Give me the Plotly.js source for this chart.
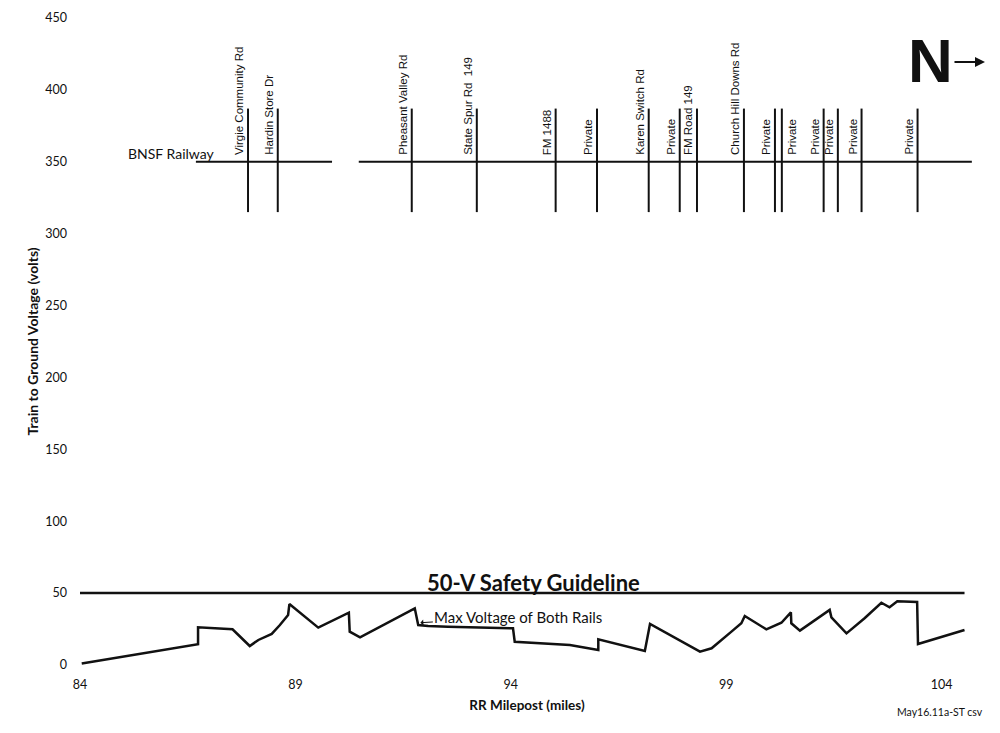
<!DOCTYPE html>
<html>
<head>
<meta charset="utf-8">
<script src="https://cdn.plot.ly/plotly-3.0.1.min.js"></script>
<style>
  html, body { margin: 0; padding: 0; background: #ffffff; }
  #chart { width: 1000px; height: 733px; }
</style>
</head>
<body>
<div id="chart"></div>
<script>
// Train-to-ground voltage (max of both rails) along the BNSF line
const mileposts = [84.04, 86.74, 86.74, 87.54, 87.94, 88.14, 88.45, 88.64, 88.83, 88.86,
  89.53, 90.24, 90.26, 90.50, 91.77, 91.85, 92.08, 92.54, 94.05, 94.09,
  95.37, 95.76, 96.03, 96.03, 97.11, 97.23, 97.84, 98.39, 98.66, 98.85,
  99.12, 99.35, 99.43, 99.93, 100.28, 100.50, 100.51, 100.71, 101.40, 101.44,
  101.79, 102.21, 102.60, 102.79, 102.97, 103.43, 103.45, 104.53];
const voltages = [1, 14.4, 26.2, 24.8, 13.2, 17.4, 21.6, 27.8, 34.8, 42.4,
  26.0, 36.4, 23.2, 19.2, 39.4, 27.8, 27.1, 26.6, 25.5, 16.2,
  13.9, 11.6, 10.4, 17.9, 9.7, 28.5, 18.5, 9.3, 11.6, 16.2,
  23.2, 29.0, 34.1, 24.8, 29.4, 36.6, 29.0, 23.9, 38.3, 33.2,
  22.0, 32.5, 43.3, 40.1, 44.3, 43.8, 14.6, 24.3];

// 50-V safety guideline across the surveyed stretch
const guidelineMiles = [84, 104.53];
const guidelineVolts = [50, 50];

// Road crossings along the track (schematic drawn in the upper part)
const crossingNames = ["Virgie Community Rd", "Hardin Store Dr", "Pheasant Valley Rd",
  "State Spur Rd  149", "FM 1488", "Private", "Karen Switch Rd", "Private", "FM Road 149",
  "Church Hill Downs Rd", "Private", "Private", "Private", "Private", "Private", "Private"];
const crossingMiles = [87.90, 88.59, 91.70, 93.21, 95.04, 96.00, 97.20, 97.92, 98.32,
  99.41, 100.13, 100.29, 101.26, 101.59, 102.14, 103.44];

// Railway schematic: two track segments, crossings span a band of the y scale
const railSegments = [[86.69, 89.85], [90.47, 104.70]];
const railLevel = 350;
const crossingSpan = [315, 387];

const xTicks = [84, 89, 94, 99, 104];
const yTicks = [0, 50, 100, 150, 200, 250, 300, 350, 400, 450];

const ink = '#111111';
const bodyFont = 'Lato, "Open Sans", sans-serif';
const labelFont = '"Liberation Sans", Arial, sans-serif';

// Build line geometry for the railway and crossings (null breaks between pieces)
const railX = [], railY = [];
railSegments.forEach(seg => { railX.push(seg[0], seg[1], null); railY.push(railLevel, railLevel, null); });
const crossX = [], crossY = [];
crossingMiles.forEach(m => { crossX.push(m, m, null); crossY.push(crossingSpan[0], crossingSpan[1], null); });

const traces = [
  { x: mileposts, y: voltages, type: 'scatter', mode: 'lines',
    line: { color: ink, width: 2.5 }, hoverinfo: 'x+y', showlegend: false },
  { x: guidelineMiles, y: guidelineVolts, type: 'scatter', mode: 'lines',
    line: { color: ink, width: 2.5 }, hoverinfo: 'skip', showlegend: false },
  { x: railX, y: railY, type: 'scatter', mode: 'lines',
    line: { color: ink, width: 2 }, hoverinfo: 'skip', showlegend: false },
  { x: crossX, y: crossY, type: 'scatter', mode: 'lines',
    line: { color: ink, width: 2 }, hoverinfo: 'skip', showlegend: false }
];

// Crossing name labels, rotated, sitting just above the track
const annotations = crossingNames.map((name, i) => {
  const tooClose = i > 0 && (crossingMiles[i] - crossingMiles[i - 1]) < 0.3;
  return {
    x: crossingMiles[i], y: railLevel + 4, xref: 'x', yref: 'y',
    text: name, showarrow: false, textangle: -90, borderpad: 0,
    xanchor: tooClose ? 'left' : 'right', yanchor: 'bottom',
    xshift: tooClose ? 3 : -2,
    font: { family: labelFont, size: 11.5, color: ink }
  };
});

annotations.push(
  { x: 87.18, y: 356, xref: 'x', yref: 'y', text: 'BNSF Railway', showarrow: false,
    xanchor: 'right', yanchor: 'middle', font: { family: bodyFont, size: 14, color: ink } },
  { x: 94.53, y: 57.5, xref: 'x', yref: 'y', text: '50-V Safety Guideline', showarrow: false,
    xanchor: 'center', yanchor: 'middle',
    font: { family: bodyFont, size: 22, color: ink, weight: 'bold' } },
  { x: 91.9, y: 29.4, xref: 'x', yref: 'y', text: 'Max Voltage of Both Rails',
    showarrow: true, ax: 98, ay: -6, arrowhead: 1, arrowsize: 1, arrowwidth: 1,
    arrowcolor: ink, font: { family: bodyFont, size: 15, color: ink } },
  { x: 0.951, y: 0.934, xref: 'paper', yref: 'paper', text: 'N', showarrow: false,
    xanchor: 'center', yanchor: 'middle',
    font: { family: '"Liberation Sans Narrow", "Liberation Sans", Arial, sans-serif', size: 62, color: ink, weight: 'bold' } },
  { x: 1.0123, y: 0.932, xref: 'paper', yref: 'paper', text: '', showarrow: true,
    ax: -32, ay: 0, arrowhead: 2, arrowsize: 1, arrowwidth: 2, arrowcolor: ink },
  { x: 1.0123, y: -0.073, xref: 'paper', yref: 'paper', text: 'May16.11a-ST csv', showarrow: false,
    xanchor: 'right', yanchor: 'middle', font: { family: bodyFont, size: 10.5, color: ink } }
);

const layout = {
  width: 1000, height: 733,
  margin: { l: 80, r: 26, t: 18, b: 68 },
  paper_bgcolor: '#ffffff', plot_bgcolor: '#ffffff',
  font: { family: bodyFont, size: 12, color: ink },
  showlegend: false,
  xaxis: {
    range: [84, 104.75], tickvals: xTicks, ticktext: xTicks.map(String),
    showgrid: false, zeroline: false, showline: false, ticks: '',
    ticklabelstandoff: 10, tickfont: { family: bodyFont, size: 12.5, color: ink },
    title: { text: 'RR Milepost (miles)', standoff: 10,
      font: { family: bodyFont, size: 13.5, color: ink, weight: 'bold' } }
  },
  yaxis: {
    range: [0, 450], tickvals: yTicks, ticktext: yTicks.map(String),
    showgrid: false, zeroline: false, showline: false, ticks: '',
    ticklabelstandoff: 12, tickfont: { family: bodyFont, size: 12.5, color: ink },
    title: { text: 'Train to Ground Voltage (volts)', standoff: 3,
      font: { family: bodyFont, size: 14, color: ink, weight: 'bold' } }
  },
  annotations: annotations
};

Plotly.newPlot('chart', traces, layout, { displayModeBar: false, responsive: false });
</script>
</body>
</html>
